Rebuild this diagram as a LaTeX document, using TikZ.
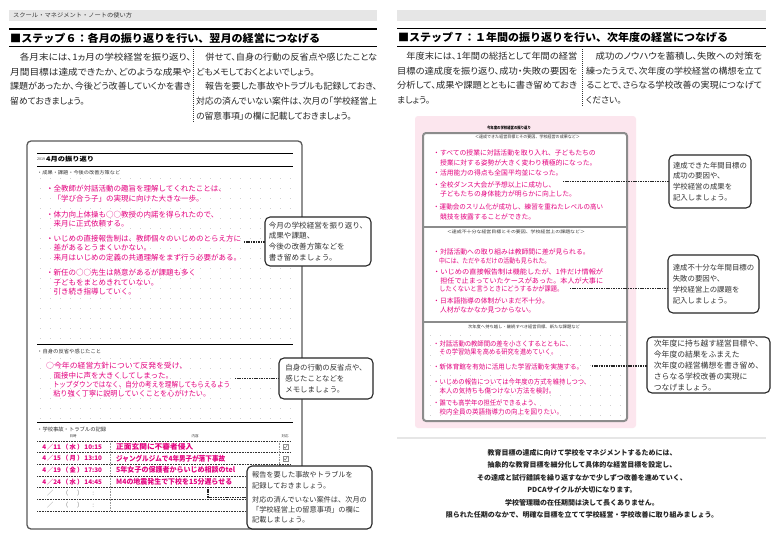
\documentclass[tikz,border=0pt]{standalone}
\usepackage{fontspec}
\usepackage{graphicx}
\newfontfamily\jp{Noto Sans CJK JP}
\newfontfamily\jpp{Noto Sans CJK JP}[RawFeature=+palt]
\definecolor{hand}{HTML}{E4007F}
\definecolor{pinkbg}{HTML}{FCE6EE}
\definecolor{barg}{HTML}{E6E6E6}
\definecolor{txt}{HTML}{333333}
\newsavebox\fitbox
\newcommand\fitw[2]{\sbox\fitbox{#2}\pgfmathsetmacro\fitf{#1/\the\wd\fitbox}\scalebox{\fitf}[1]{\usebox\fitbox}}
\newcommand\txlines[4]{\foreach \yy/\ww/\tx [count=\i] in {#4}{\ifdim\ww pt>0pt\relax\node[#2] (#1\i) at (#3,\yy) {\fitw{\ww}{\tx}};\else\node[#2] (#1\i) at (#3,\yy) {\tx};\fi}}
\newcommand\dtrow[4]{\makebox[6pt]{#1}\makebox[6pt]{／}\makebox[8pt]{#2}\makebox[8pt]{（}\makebox[7pt]{#3}\makebox[8pt]{）}\makebox[18pt]{#4}}
\tikzset{
 basew/.style={inner sep=0pt, anchor=base west},
 bodytx/.style={basew, font=\jpp\fontsize{8.8}{10}\selectfont, text=black!85, yshift=-3.2pt},
 headtx/.style={basew, font=\jp\bfseries\fontsize{10.7}{12}\selectfont, yshift=-3.9pt},
 handl/.style={basew, font=\jp\fontsize{7.5}{9}\selectfont, text=hand, yshift=-2.8pt},
 handr/.style={basew, font=\jp\fontsize{6.8}{8}\selectfont, text=hand, yshift=-2.5pt},
 handt/.style={basew, font=\jp\bfseries\fontsize{7.2}{8}\selectfont, text=hand, yshift=-2.6pt},
 datet/.style={basew, font=\jp\bfseries\fontsize{6.3}{8}\selectfont, text=hand, yshift=-2.3pt},
 smalltx/.style={basew, font=\jp\fontsize{#1}{#1}\selectfont, text=black!80, yshift=-0.37*#1pt},
 ctrtx/.style={inner sep=0pt, anchor=base, font=\jp\fontsize{#1}{#1}\selectfont, text=black!80, yshift=-0.37*#1pt},
 bottx/.style={inner sep=0pt, anchor=base, font=\jp\bfseries\fontsize{7}{8}\selectfont, text=black!85, yshift=-2.6pt},
 callout/.style={draw=black!85, line width=1.1pt, rounded corners=5pt, fill=white, inner sep=0pt, align=left, text=txt},
 conn/.style={line width=1.7pt, black!85, dash pattern=on 1.1pt off 0.6pt},
 dotgrid/.style={black!18, line width=0.7pt, dash pattern=on 0.7pt off 9.3pt},
 rulel/.style={black, line width=0.9pt},
 sepline/.style={black!80, line width=0.7pt, dash pattern=on 1pt off 1pt},
 tabline/.style={black!80, line width=0.7pt, dash pattern=on 0.8pt off 0.8pt},
}
\begin{document}
\begin{tikzpicture}[x=1pt,y=-1pt]
\useasboundingbox (0,0) rectangle (774,549);
\fill[white] (0,0) rectangle (774,549);
% ---------- top bars and headings
\fill[barg] (9,10) rectangle (377,21);
\fill[barg] (397,10) rectangle (766,21);
\node[smalltx=5.8] (bar) at (13,15.5) {\fitw{119}{スクール・マネジメント・ノートの使い方}};
\draw[line width=1.2pt] (9,29) -- (377,29);
\draw[line width=1pt] (9,46.7) -- (377,46.7);
\draw[line width=1.2pt] (397,28.5) -- (766,28.5);
\draw[line width=1pt] (397,46) -- (766,46);
\node[headtx] (h6) at (10,38.3) {\fitw{310}{■ステップ６：各月の振り返りを行い、翌月の経営につなげる}};
\node[headtx] (h7) at (398,38) {\fitw{330}{■ステップ７：１年間の振り返りを行い、次年度の経営につなげる}};
% ---------- body text
\txlines{la}{bodytx}{10}{57.3/181/　各月末には、1ヵ月の学校経営を振り返り、,72/181/月間目標は達成できたか、どのような成果や,86.7/181/課題があったか、今後どう改善していくかを書き,101.4/0/留めておきましょう。}
\txlines{lb}{bodytx}{196}{57.3/181/　併せて、自身の行動の反省点や感じたことな,72/0/どもメモしておくとよいでしょう。,86.7/181/　報告を要した事故やトラブルも記録しておき、,101.4/181/対応の済んでいない案件は、次月の「学校経営上,116.1/0/の留意事項」の欄に記載しておきましょう。}
\txlines{ra}{bodytx}{397}{56.7/180/　年度末には、1年間の総括として年間の経営,71.2/180/目標の達成度を振り返り、成功・失敗の要因を,85.7/180/分析して、成果や課題とともに書き留めておき,100.2/0/ましょう。}
\txlines{rb}{bodytx}{586}{56.7/176/　成功のノウハウを蓄積し、失敗への対策を,71.2/176/練ったうえで、次年度の学校経営の構想を立て,85.7/176/ることで、さらなる学校改善の実現につなげて,100.2/0/ください。}
\draw[sepline] (193,49) -- (193,123);
\draw[sepline] (582,49) -- (582,107);
% ---------- notebook (left)
\draw[black!65, line width=1.3pt, rounded corners=4pt, fill=white] (27,141) rectangle (302,529);
\foreach \gy in {178,188,...,338} \draw[dotgrid] (40,\gy) -- (291,\gy);
\foreach \gy in {358,368,...,418} \draw[dotgrid] (40,\gy) -- (291,\gy);
\draw[rulel] (37,153) -- (293,153);
\draw[rulel] (37,166) -- (293,166);
\draw[rulel] (37,344) -- (293,344);
\draw[rulel] (37,422) -- (293,422);
\node[smalltx=3.6] (yr) at (37,159.3) {2019};
\node[basew, font=\jp\bfseries\fontsize{6.3}{7}\selectfont, yshift=-2.3pt] (ttl) at (46,159.3) {\fitw{48}{4月の振り返り}};
\node[smalltx=4.8] (s1) at (37,173) {\fitw{83}{・成果・課題・今後の改善方策など}};
\node[smalltx=5.2] (s2) at (37,351.7) {\fitw{64}{・自身の反省や感じたこと}};
\node[smalltx=5.2] (s3) at (37,429.3) {\fitw{69}{・学校事故・トラブルの記録}};
\node[ctrtx=3.5] (hd1) at (73,436.5) {日時};
\node[ctrtx=3.5] (hd2) at (195,436.5) {内容};
\node[ctrtx=3.5] (hd3) at (285,436.5) {対応};
\txlines{p}{handl}{46}{189/0/・全教師が対話活動の趣旨を理解してくれたことは、,199/0/　「学び合う子」の実現に向けた大きな一歩。,214.3/0/・体力向上体操も○○教授の内諾を得られたので、,224/0/　来月に正式依頼する。,238.5/0/・いじめの直接報告制は、教師個々のいじめのとらえ方に,248/0/　差があるとうまくいかない。,257.5/0/　来月はいじめの定義の共通理解をまず行う必要がある。,273/0/・新任の○○先生は熱意があるが課題も多く,282.3/0/　子どもをまとめきれていない。,291.7/0/　引き続き指導していく。}
\txlines{q}{handl}{46}{366/141/○今年の経営方針について反発を受け、,376/0/　面接中に声を大きくしてしまった。,384.5/184/　トップダウンではなく、自分の考えを理解してもらえるよう,393.5/164/　粘り強く丁寧に説明していくことを心がけたい。}
% table
\foreach \gy in {441,452.7,464.3,476,487.7,499.3,511} \draw[tabline] (37,\gy) -- (291,\gy);
\draw[tabline, black!40] (110,441) -- (110,511);
\draw[tabline, black!40] (279,441) -- (279,511);
\node[datet] (d1) at (41,446.8) {\dtrow{4}{11}{水}{10:15}};
\node[datet] (d2) at (41,458.5) {\dtrow{4}{15}{月}{13:10}};
\node[datet] (d3) at (41,470.2) {\dtrow{4}{19}{金}{17:30}};
\node[datet] (d4) at (41,481.8) {\dtrow{4}{24}{水}{14:45}};
\node[datet, text=black!50, font=\jp\fontsize{6.3}{8}\selectfont] (d5) at (41,493.5) {\dtrow{}{}{}{:}};
\node[datet, text=black!50, font=\jp\fontsize{6.3}{8}\selectfont] (d6) at (41,505.2) {\dtrow{}{}{}{:}};
\txlines{r}{handt}{116}{446.8/77/正面玄関に不審者侵入,458.5/109/ジャングルジムで4年男子が落下事故,470.2/119/5年女子の保護者からいじめ相談のtel,481.8/116/M4の地震発生で下校を15分遅らせる}
\foreach \gy in {446.8,458.5} {
  \draw[black!45, line width=0.5pt, fill=white] (283,{\gy-2.5}) rectangle (288,{\gy+2.5});
  \draw[black!55, line width=0.5pt] (283.8,\gy) -- (285.3,{\gy+1.5}) -- (287.3,{\gy-1.8});
}
% ---------- right page sheet
\fill[pinkbg, rounded corners=3pt] (415,116) rectangle (636,428);
\node[basew, anchor=base, font=\jp\bfseries\fontsize{4}{5}\selectfont, yshift=-1.5pt] (rtitle) at (509,128.3) {\fitw{44}{今年度の学校経営の振り返り}};
\draw[black!45, line width=2pt, rounded corners=3pt, fill=white] (423,133) rectangle (627,421);
\foreach \gy in {335,345,...,415} \draw[dotgrid] (430,\gy) -- (621,\gy);
\draw[black!45, line width=1.5pt] (423,227) -- (627,227);
\draw[black!45, line width=1.5pt] (423,322) -- (627,322);
\node[ctrtx=4.2] (sh1) at (527.5,136.8) {\fitw{105}{＜達成できた経営目標とその要因、学校経営の成果など＞}};
\node[ctrtx=4.2] (sh2) at (516,231.5) {\fitw{138}{＜達成不十分な経営目標とその要因、学校経営上の課題など＞}};
\node[ctrtx=4.2] (sh3) at (524,327) {\fitw{112}{次年度へ持ち越し・継続すべき経営目標、新たな課題など}};
\txlines{u}{handr}{433}{153.3/0/・すべての授業に対話活動を取り入れ、子どもたちの,162.7/0/　授業に対する姿勢が大きく変わり積極的になった。,173.3/0/・活用能力の得点も全国平均並になった。,185/0/・全校ダンス大会が予想以上に成功し、,194.3/0/　子どもたちの身体能力が明らかに向上した。,207.3/170/・運動会のスリム化が成功し、練習を重ねたレベルの高い,216.7/0/　競技を披露することができた。}
\txlines{v}{handr}{433}{251.7/0/・対話活動への取り組みは教師間に差が見られる。,260.7/117/　中には、ただやるだけの活動も見られた。,271.7/170/・いじめの直接報告制は機能したが、1件だけ情報が,281/170/　担任で止まっていたケースがあった。本人が大事に,289.3/130/　したくないと言うときにどうするかが課題。,301/0/・日本語指導の体制がいまだ不十分。,310/0/　人材がなかなか見つからない。}
\txlines{w}{handr}{433}{344/139/・対話活動の教師間の差を小さくするとともに、,351.7/124/　その学習効果を高める研究を進めていく。,366.7/150/・新体育館を有効に活用した学習活動を実施する。,381.7/157/・いじめの報告については今年度の方式を維持しつつ、,390.5/122/　本人の気持ちも傷つけない方法を検討。,403.3/107/・誰でも高学年の担任ができるよう、,411.7/130/　校内全員の英語指導力の向上を図りたい。}
% ---------- bottom text
\draw[barg, line width=2.5pt] (397,438) -- (766,438);
\foreach \yy/\tx [count=\i] in {452.7/教育目標の達成に向けて学校をマネジメントするためには、,465/抽象的な教育目標を細分化して具体的な経営目標を設定し、,477.7/その達成と試行錯誤を繰り返すなかで少しずつ改善を進めていく、,490/PDCAサイクルが大切になります。,502.7/学校管理職の在任期間は決して長くありません。,515/限られた任期のなかで、明確な目標を立てて学校経営・学校改善に取り組みましょう。}
  \node[bottx] (bt\i) at (582,\yy) {\tx};
% ---------- connectors
\coordinate (c1) at (244,242);
\coordinate (c2) at (235,378.5);
\coordinate (c3) at (208,487);
\coordinate (cr1) at (563,181.5);
\coordinate (cr2) at (570,288.5);
\coordinate (cr3) at (592,366);
\node[callout, minimum width=106pt, minimum height=49pt, font=\jp\fontsize{7.6}{10.8}\selectfont] (b1) at (318,241.5) {今月の学校経営を振り返り、\\成果や課題、\\今後の改善方策などを\\書き留めましょう。};
\node[callout, minimum width=94pt, minimum height=41pt, font=\jp\fontsize{7.4}{11}\selectfont] (b2) at (326,378.5) {自身の行動の反省点や、\\感じたことなどを\\メモしましょう。};
\node[callout, minimum width=125pt, minimum height=63pt, font=\jp\fontsize{7.2}{10.4}\selectfont] (b3) at (309.5,497.5) {報告を要した事故やトラブルを\\記録しておきましょう。\\[3.5pt]対応の済んでいない案件は、次月の\\「学校経営上の留意事項」の欄に\\記載しましょう。};
\node[callout, minimum width=82pt, minimum height=53pt, font=\jp\fontsize{7.4}{10.7}\selectfont] (rb1) at (710,181.5) {達成できた年間目標の\\成功の要因や、\\学校経営の成果を\\記入しましょう。};
\node[callout, minimum width=91pt, minimum height=58pt, font=\jp\fontsize{7.4}{10.8}\selectfont] (rb2) at (713.5,284) {達成不十分な年間目標の\\失敗の要因や、\\学校経営上の課題を\\記入しましょう。};
\node[callout, minimum width=123pt, minimum height=56pt, font=\jp\fontsize{7.8}{11}\selectfont] (rb3) at (708.5,365) {次年度に持ち越す経営目標や、\\今年度の結果をふまえた\\次年度の経営構想を書き留め、\\さらなる学校改善の実現に\\つなげましょう。};
\draw[conn] (c1) -- (c1 -| b1.west);
\draw[conn] (c2) -- (c2 -| b2.west);
\draw[conn] (c3) |- (b3.west);
\draw[conn] (cr1) -- (cr1 -| rb1.west);
\draw[conn] (cr2) -- (cr2 -| rb2.west);
\draw[conn] (cr3) -- (cr3 -| rb3.west);
\end{tikzpicture}
\end{document}
